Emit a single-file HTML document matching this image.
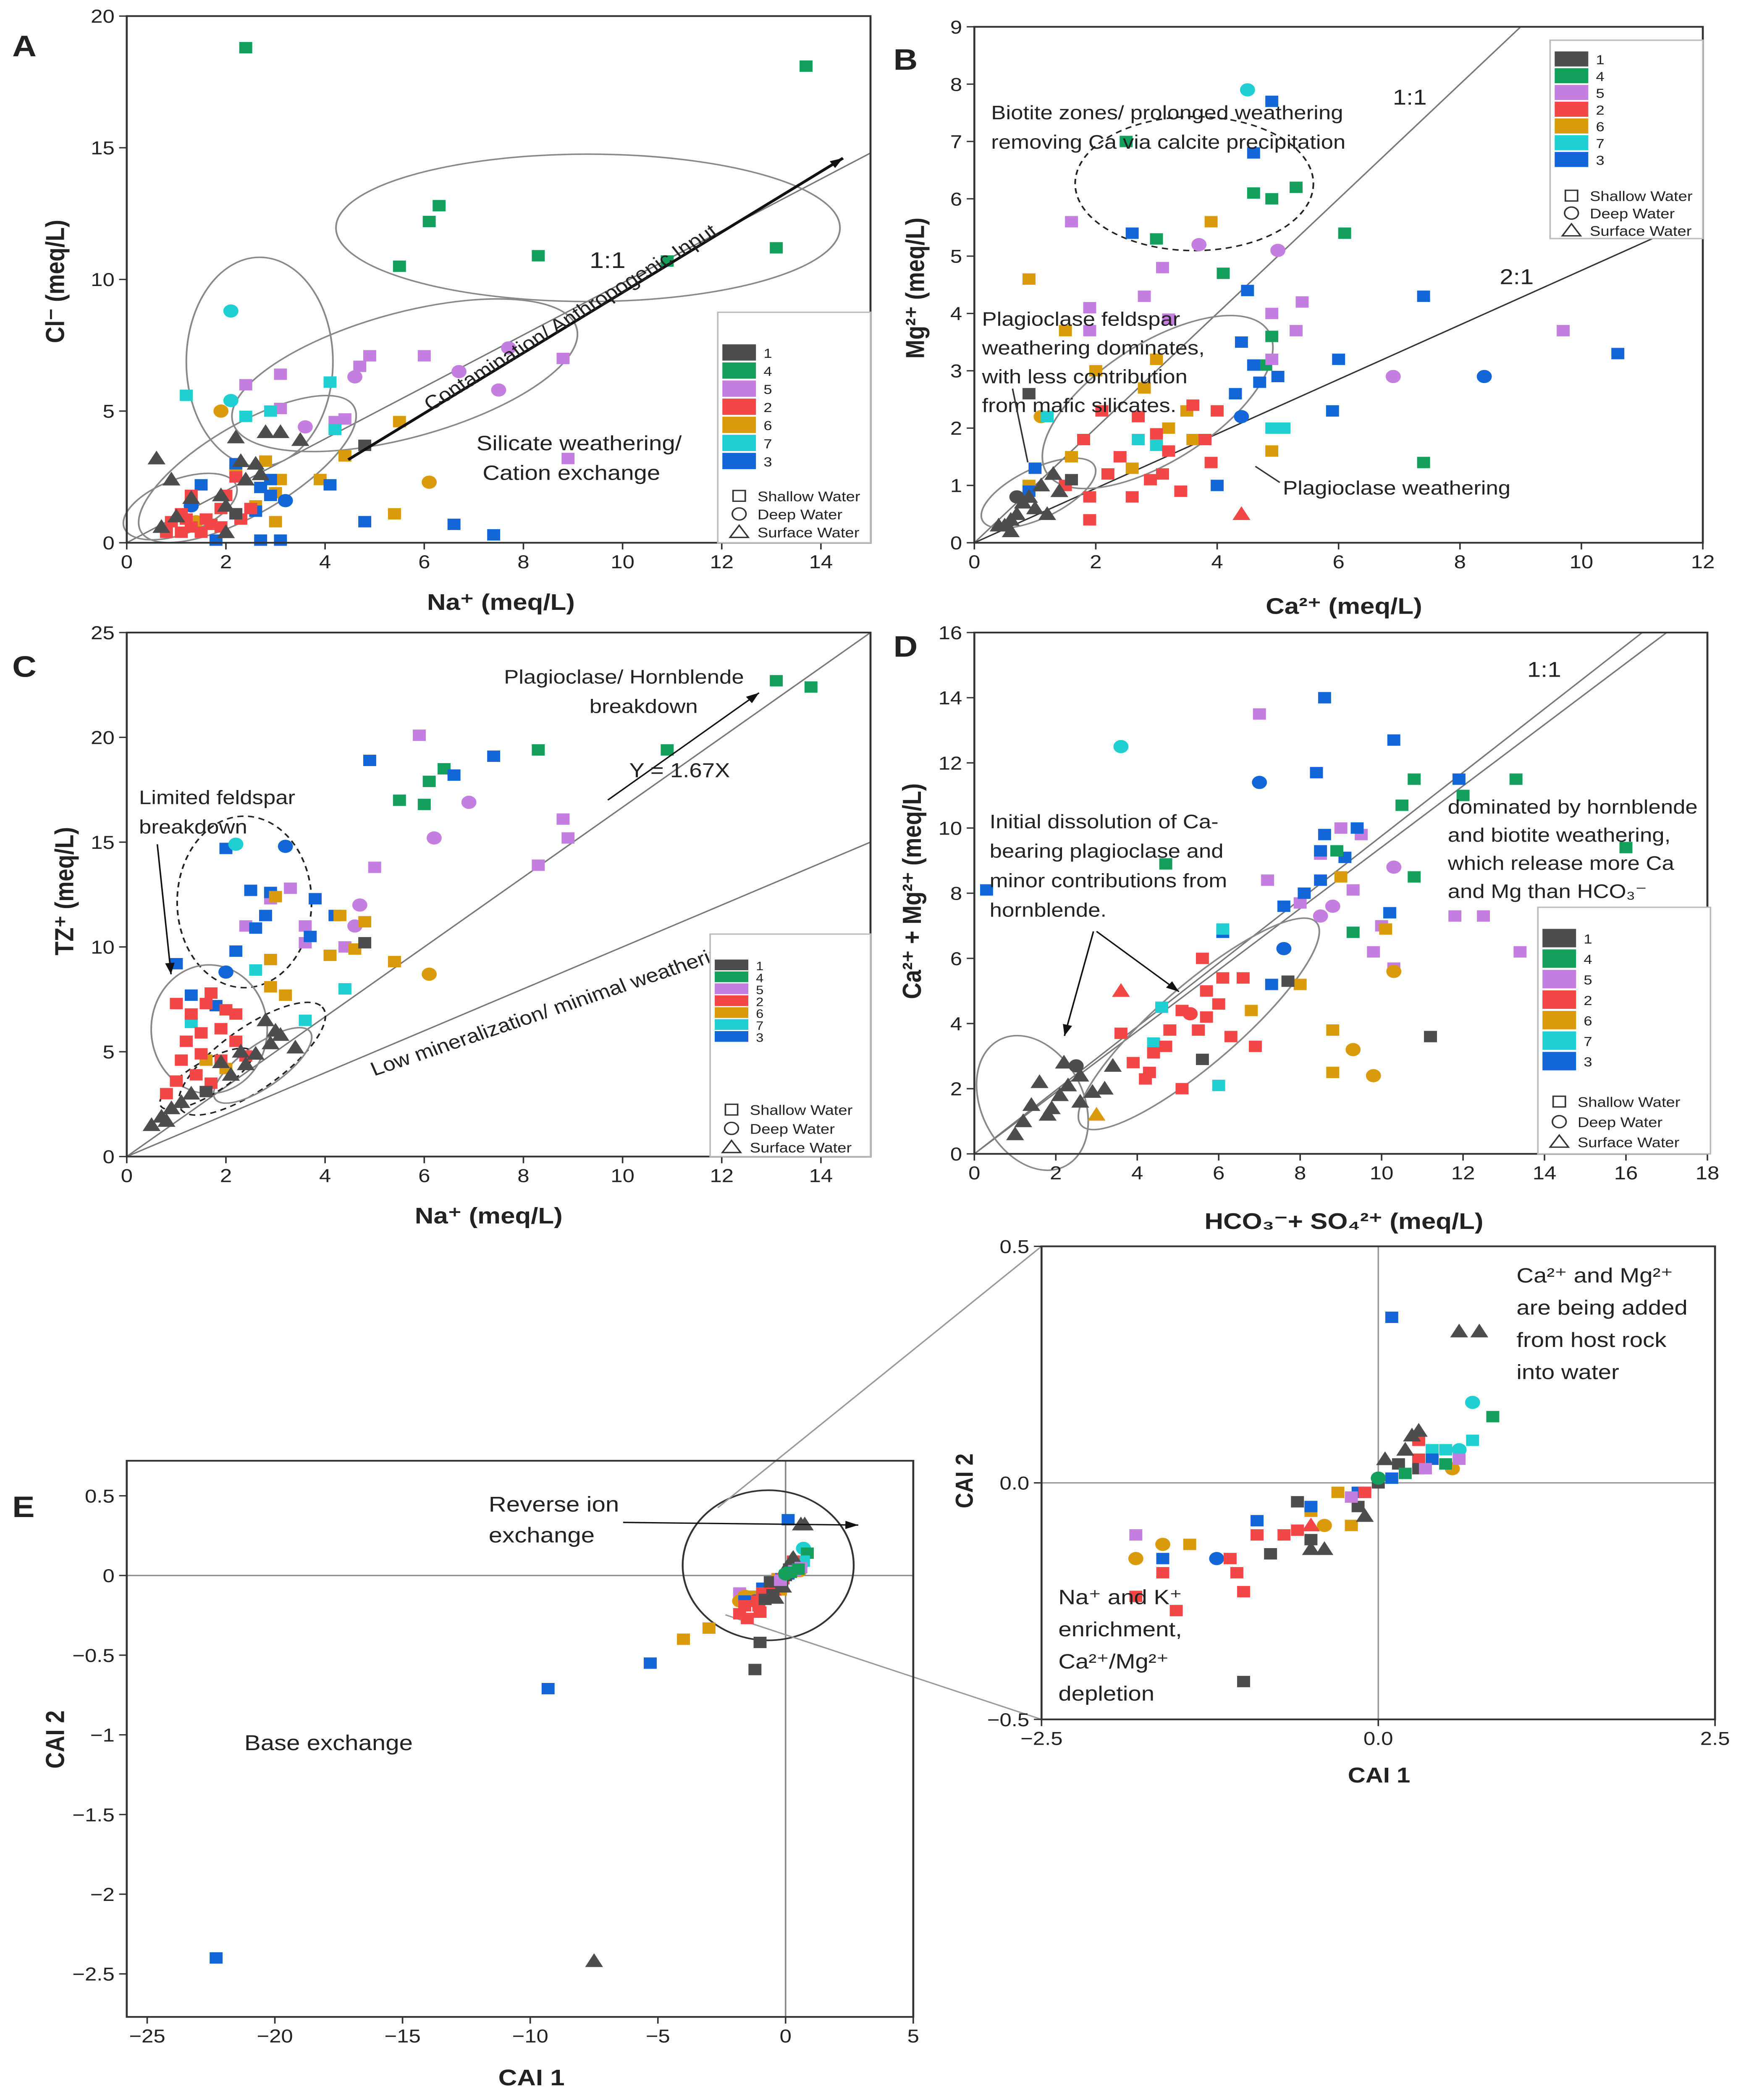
<!DOCTYPE html>
<html><head><meta charset="utf-8"><style>
html,body{margin:0;padding:0;background:#fff;width:100%;height:100%;overflow:hidden}
svg{display:block;width:100vw;height:100vh}
text{font-family:"Liberation Sans",sans-serif;fill:#222}
</style></head><body>
<svg id="fig" viewBox="0 0 1140 1567" preserveAspectRatio="none" xmlns="http://www.w3.org/2000/svg"></svg>
<script>
// ---------- DATA ----------
const groupLabels = ["1","4","5","2","6","7","3"];
const groupColors = {"1":"#4d4d4d","4":"#14a05c","5":"#c37ee0","2":"#f34646","6":"#d99b0c","7":"#1fcfd2","3":"#1366d8"};
const shapeLabels = ["Shallow Water","Deep Water","Surface Water"];
// panel A: [Na, Cl, group, shape]
const dataA = [
[2.4,18.8,"4","s"],[13.7,18.1,"4","s"],[6.3,12.8,"4","s"],[6.1,12.2,"4","s"],[5.5,10.5,"4","s"],[8.3,10.9,"4","s"],[10.9,10.7,"4","s"],[13.1,11.2,"4","s"],
[4.9,7.1,"5","s"],[6.0,7.1,"5","s"],[7.7,7.4,"5","c"],[8.8,7.0,"5","s"],[8.9,3.2,"5","s"],[6.7,6.5,"5","c"],[3.1,6.4,"5","s"],[4.6,6.3,"5","c"],[2.4,6.0,"5","s"],[4.7,6.7,"5","s"],[7.5,5.8,"5","c"],[3.1,5.1,"5","s"],[4.4,4.7,"5","s"],[3.6,4.4,"5","c"],[4.2,4.6,"5","s"],
[2.1,8.8,"7","c"],[2.1,5.4,"7","c"],[1.2,5.6,"7","s"],[2.9,5.0,"7","s"],[2.4,4.8,"7","s"],[4.1,6.1,"7","s"],[4.2,4.3,"7","s"],
[1.9,5.0,"6","c"],[5.5,4.6,"6","s"],[6.1,2.3,"6","c"],[4.4,3.3,"6","s"],[2.8,3.1,"6","s"],[3.1,2.4,"6","s"],[2.2,2.8,"6","s"],[3.0,1.9,"6","s"],[2.6,1.4,"6","s"],[1.4,0.8,"6","c"],[3.0,0.8,"6","s"],[5.4,1.1,"6","s"],[3.9,2.4,"6","s"],
[2.2,3.0,"3","s"],[2.7,2.1,"3","s"],[1.5,2.2,"3","s"],[1.3,1.4,"3","c"],[2.9,2.4,"3","s"],[2.9,1.8,"3","s"],[4.1,2.2,"3","s"],[3.2,1.6,"3","c"],[2.6,1.2,"3","s"],[4.8,0.8,"3","s"],[6.6,0.7,"3","s"],[7.4,0.3,"3","s"],[1.8,0.1,"3","s"],[2.7,0.1,"3","s"],[2.2,1.1,"3","s"],[3.1,0.1,"3","s"],
[0.9,0.8,"2","s"],[1.1,1.1,"2","s"],[1.3,0.6,"2","s"],[1.6,0.9,"2","s"],[1.9,1.3,"2","s"],[1.1,0.4,"2","s"],[1.5,0.4,"2","s"],[1.9,0.6,"2","s"],[2.3,0.9,"2","s"],[2.5,1.3,"2","s"],[0.8,0.4,"2","s"],[1.3,1.8,"2","s"],[2.0,1.8,"2","s"],[2.2,2.5,"2","s"],[1.7,0.7,"2","s"],[1.2,0.9,"2","s"],
[0.6,3.2,"1","t"],[0.9,2.4,"1","t"],[1.3,1.7,"1","t"],[2.3,3.1,"1","t"],[2.6,3.0,"1","t"],[2.8,4.2,"1","t"],[3.1,4.2,"1","t"],[2.2,4.0,"1","t"],[2.4,2.4,"1","t"],[1.9,1.8,"1","t"],[1.0,1.0,"1","t"],[0.7,0.6,"1","t"],[2.0,1.4,"1","t"],[2.7,2.6,"1","t"],[4.8,3.7,"1","s"],[2.2,1.1,"1","s"],[2.0,0.4,"1","t"],[3.5,3.9,"1","t"]];
// panel B: [Ca, Mg, group, shape]
const dataB = [
[4.5,7.9,"7","c"],[4.9,7.7,"3","s"],[2.5,7.0,"4","s"],[4.6,6.1,"4","s"],[4.9,6.0,"4","s"],[5.3,6.2,"4","s"],[3.0,5.3,"4","s"],[6.1,5.4,"4","s"],[4.1,4.7,"4","s"],[4.9,3.6,"4","s"],[7.4,1.4,"4","s"],[4.8,3.1,"4","s"],
[1.6,5.6,"5","s"],[3.7,5.2,"5","c"],[5.0,5.1,"5","c"],[3.1,4.8,"5","s"],[1.9,4.1,"5","s"],[2.8,4.3,"5","s"],[4.9,4.0,"5","s"],[5.4,4.2,"5","s"],[4.9,3.2,"5","s"],[5.3,3.7,"5","s"],[9.7,3.7,"5","s"],[6.9,2.9,"5","c"],[1.9,3.7,"5","s"],[3.2,3.9,"5","s"],
[3.9,5.6,"6","s"],[0.9,4.6,"6","s"],[1.5,3.7,"6","s"],[3.0,3.2,"6","s"],[2.0,3.0,"6","s"],[3.5,2.3,"6","s"],[2.8,2.7,"6","s"],[3.6,1.8,"6","s"],[1.6,1.5,"6","s"],[0.9,1.0,"6","s"],[2.6,1.3,"6","s"],[4.9,1.6,"6","s"],[3.2,2.0,"6","s"],[1.1,2.2,"6","c"],
[4.6,6.8,"3","s"],[2.6,5.4,"3","s"],[4.5,4.4,"3","s"],[7.4,4.3,"3","s"],[4.4,3.5,"3","s"],[6.0,3.2,"3","s"],[10.6,3.3,"3","s"],[8.4,2.9,"3","c"],[4.7,2.8,"3","s"],[5.9,2.3,"3","s"],[5.0,2.9,"3","s"],[4.3,2.6,"3","s"],[4.0,1.0,"3","s"],[4.4,2.2,"3","c"],[0.9,0.9,"3","s"],[1.0,1.3,"3","s"],[4.6,3.1,"3","s"],
[2.7,1.8,"7","s"],[3.0,1.7,"7","s"],[1.2,2.2,"7","s"],[4.9,2.0,"7","s"],[5.1,2.0,"7","s"],
[2.1,2.3,"2","s"],[2.7,2.2,"2","s"],[3.6,2.4,"2","s"],[3.0,1.9,"2","s"],[1.8,1.8,"2","s"],[2.4,1.5,"2","s"],[3.1,1.2,"2","s"],[2.6,0.8,"2","s"],[3.4,0.9,"2","s"],[4.4,0.5,"2","t"],[1.9,0.8,"2","s"],[1.5,1.0,"2","s"],[3.9,1.4,"2","s"],[3.2,1.6,"2","s"],[4.0,2.3,"2","s"],[3.8,1.8,"2","s"],[2.2,1.2,"2","s"],[2.9,1.1,"2","s"],[1.9,0.4,"2","s"],
[0.9,2.6,"1","s"],[0.5,0.3,"1","t"],[0.6,0.4,"1","t"],[0.7,0.5,"1","t"],[0.8,0.7,"1","t"],[0.9,0.8,"1","t"],[1.1,1.0,"1","t"],[1.3,1.2,"1","t"],[0.6,0.2,"1","t"],[1.0,0.6,"1","t"],[1.4,0.9,"1","t"],[1.6,1.1,"1","s"],[0.4,0.3,"1","t"],[0.7,0.8,"1","c"],[1.2,0.5,"1","t"]];
// panel C: [Na, TZ, group, shape]
const dataC = [
[13.1,22.7,"4","s"],[13.8,22.4,"4","s"],[10.9,19.4,"4","s"],[8.3,19.4,"4","s"],[6.4,18.5,"4","s"],[6.1,17.9,"4","s"],[5.5,17.0,"4","s"],[6.0,16.8,"4","s"],
[5.0,13.8,"5","s"],[5.9,20.1,"5","s"],[6.9,16.9,"5","c"],[6.2,15.2,"5","c"],[8.8,16.1,"5","s"],[8.9,15.2,"5","s"],[8.3,13.9,"5","s"],[4.7,12.0,"5","c"],[4.6,11.0,"5","c"],[3.3,12.8,"5","s"],[2.9,12.3,"5","s"],[3.6,11.0,"5","s"],[2.4,11.0,"5","s"],[4.4,10.0,"5","s"],[3.6,10.2,"5","s"],
[4.9,18.9,"3","s"],[7.4,19.1,"3","s"],[6.6,18.2,"3","s"],[2.0,14.7,"3","s"],[3.2,14.8,"3","c"],[2.5,12.7,"3","s"],[2.9,12.6,"3","s"],[3.8,12.3,"3","s"],[2.8,11.5,"3","s"],[2.6,10.9,"3","s"],[2.2,9.8,"3","s"],[1.0,9.2,"3","s"],[2.0,8.8,"3","c"],[4.2,11.5,"3","s"],[1.3,7.7,"3","s"],[3.7,10.5,"3","s"],[1.8,7.2,"3","s"],
[2.2,14.9,"7","c"],[2.6,8.9,"7","s"],[3.6,6.5,"7","s"],[4.4,8.0,"7","s"],[1.3,6.4,"7","s"],
[3.0,12.4,"6","s"],[2.9,9.4,"6","s"],[3.2,7.7,"6","s"],[4.1,9.6,"6","s"],[4.6,9.9,"6","s"],[5.4,9.3,"6","s"],[6.1,8.7,"6","c"],[4.8,11.2,"6","s"],[2.9,8.1,"6","s"],[2.0,4.2,"6","s"],[1.6,4.6,"6","s"],[4.3,11.5,"6","s"],
[1.0,7.3,"2","s"],[1.3,6.8,"2","s"],[1.6,7.3,"2","s"],[2.0,7.0,"2","s"],[1.2,5.5,"2","s"],[1.5,5.9,"2","s"],[1.9,6.1,"2","s"],[2.2,5.5,"2","s"],[1.1,4.6,"2","s"],[1.5,4.9,"2","s"],[1.9,4.6,"2","s"],[2.4,4.8,"2","s"],[1.0,3.6,"2","s"],[1.4,3.9,"2","s"],[0.8,3.0,"2","s"],[1.7,3.5,"2","s"],[2.2,6.8,"2","s"],[1.7,7.8,"2","s"],
[4.8,10.2,"1","s"],[1.6,3.1,"1","s"],[0.5,1.5,"1","t"],[0.7,1.9,"1","t"],[0.9,2.3,"1","t"],[1.1,2.6,"1","t"],[1.3,3.0,"1","t"],[2.1,3.9,"1","t"],[2.4,4.4,"1","t"],[2.6,4.9,"1","t"],[2.9,5.4,"1","t"],[3.1,5.8,"1","t"],[2.8,6.5,"1","t"],[3.4,5.2,"1","t"],[2.3,5.0,"1","t"],[1.9,4.5,"1","t"],[0.8,1.7,"1","t"],[3.0,6.0,"1","t"]];
// panel D: [HCO3+SO4, Ca+Mg, group, shape]
const dataD = [
[7.0,13.5,"5","s"],[9.5,9.8,"5","s"],[9.0,10.0,"5","s"],[8.5,9.2,"5","s"],[10.3,8.8,"5","c"],[10.3,5.7,"5","s"],[9.8,6.2,"5","s"],[8.0,7.7,"5","s"],[8.5,7.3,"5","c"],[8.8,7.6,"5","c"],[9.3,8.1,"5","s"],[11.8,7.3,"5","s"],[12.5,7.3,"5","s"],[13.4,6.2,"5","s"],[7.2,8.4,"5","s"],[10.0,7.0,"5","s"],
[8.6,14.0,"3","s"],[10.3,12.7,"3","s"],[8.4,11.7,"3","s"],[7.0,11.4,"3","c"],[9.4,10.0,"3","s"],[11.9,11.5,"3","s"],[8.6,9.8,"3","s"],[8.5,9.3,"3","s"],[9.1,9.1,"3","s"],[8.5,8.4,"3","s"],[8.1,8.0,"3","s"],[7.6,7.6,"3","s"],[10.2,7.4,"3","s"],[7.6,6.3,"3","c"],[7.3,5.2,"3","s"],[0.3,8.1,"3","s"],[6.1,6.8,"3","s"],
[10.8,11.5,"4","s"],[13.3,11.5,"4","s"],[12.0,11.0,"4","s"],[10.5,10.7,"4","s"],[16.0,9.4,"4","s"],[8.9,9.3,"4","s"],[10.8,8.5,"4","s"],[4.7,8.9,"4","s"],[9.3,6.8,"4","s"],
[3.6,12.5,"7","c"],[6.1,6.9,"7","s"],[4.6,4.5,"7","s"],[6.0,2.1,"7","s"],[4.4,3.4,"7","s"],
[9.0,8.5,"6","s"],[10.1,6.9,"6","s"],[10.3,5.6,"6","c"],[8.0,5.2,"6","s"],[8.8,3.8,"6","s"],[9.3,3.2,"6","c"],[9.8,2.4,"6","c"],[8.8,2.5,"6","s"],[6.8,4.4,"6","s"],[3.0,1.2,"6","t"],
[5.6,6.0,"2","s"],[6.1,5.4,"2","s"],[5.7,5.0,"2","s"],[5.5,3.8,"2","s"],[5.1,4.4,"2","s"],[4.3,2.5,"2","s"],[4.7,3.3,"2","s"],[3.6,5.0,"2","t"],[4.4,3.1,"2","s"],[5.7,4.2,"2","s"],[6.0,4.6,"2","s"],[6.6,5.4,"2","s"],[3.6,3.7,"2","s"],[4.2,2.3,"2","s"],[5.1,2.0,"2","s"],[6.3,3.6,"2","s"],[6.9,3.3,"2","s"],[4.8,3.8,"2","s"],[3.9,2.8,"2","s"],[5.3,4.3,"2","c"],
[11.2,3.6,"1","s"],[5.6,2.9,"1","s"],[7.7,5.3,"1","s"],[1.0,0.6,"1","t"],[1.2,1.0,"1","t"],[1.4,1.5,"1","t"],[1.8,1.2,"1","t"],[2.1,1.8,"1","t"],[2.3,2.1,"1","t"],[2.6,2.4,"1","t"],[2.2,2.8,"1","t"],[2.9,1.9,"1","t"],[3.2,2.0,"1","t"],[1.6,2.2,"1","t"],[2.6,1.6,"1","t"],[3.4,2.7,"1","t"],[2.5,2.7,"1","c"],[1.9,1.4,"1","t"]];
// panel E: [CAI1, CAI2, group, shape]
const dataE = [
[-22.3,-2.4,"3","s"],[-7.5,-2.42,"1","t"],[-9.3,-0.71,"3","s"],[-5.3,-0.55,"3","s"],[-4.0,-0.40,"6","s"],[-3.0,-0.33,"6","s"],[-1.2,-0.59,"1","s"],
[0.1,0.35,"3","s"],[0.6,0.32,"1","t"],[0.75,0.32,"1","t"],[0.7,0.17,"7","c"],[0.85,0.14,"4","s"],[0.7,0.09,"7","s"],[0.6,0.07,"7","c"],[0.4,0.07,"7","s"],[0.5,0.07,"7","s"],
[-1.0,-0.42,"1","s"],
[-1.8,-0.11,"5","s"],[-1.8,-0.16,"6","c"],[-1.6,-0.13,"6","c"],[-1.4,-0.13,"6","s"],[-0.5,-0.06,"6","s"],[-0.4,-0.09,"6","c"],[-0.2,-0.09,"6","s"],[-0.3,-0.02,"6","s"],[0.55,0.03,"6","c"],
[-1.6,-0.16,"3","s"],[-1.2,-0.16,"3","c"],[-0.9,-0.08,"3","s"],[-0.5,-0.05,"3","s"],[-0.15,-0.02,"3","s"],[-0.1,-0.02,"3","s"],[0.1,0.01,"3","s"],[0.3,0.04,"3","s"],[0.4,0.05,"3","s"],
[-1.8,-0.24,"2","s"],[-1.5,-0.27,"2","s"],[-1.6,-0.19,"2","s"],[-1.0,-0.23,"2","s"],[-1.05,-0.19,"2","s"],[-1.1,-0.16,"2","s"],[-0.9,-0.11,"2","s"],[-0.7,-0.11,"2","s"],[-0.5,-0.09,"2","t"],[-0.1,-0.02,"2","s"],[0.3,0.05,"2","s"],[0.3,0.09,"2","s"],[-0.6,-0.1,"2","s"],
[-0.8,-0.15,"1","s"],[-0.5,-0.12,"1","s"],[-0.6,-0.04,"1","s"],[-0.15,-0.05,"1","s"],[-0.4,-0.14,"1","t"],[-0.5,-0.14,"1","t"],[-0.1,-0.07,"1","t"],[0.05,0.05,"1","t"],[0.2,0.07,"1","t"],[0.3,0.11,"1","t"],[0.25,0.1,"1","t"],[0.3,0.03,"1","s"],[0.15,0.04,"1","s"],[0.0,0.0,"1","s"],
[-0.2,-0.03,"5","s"],[0.35,0.03,"5","s"],[0.6,0.05,"5","s"],[0.5,0.04,"4","s"],[0.2,0.02,"4","s"],[0.0,0.01,"4","c"]];

// ---------- DRAWING ----------
const NS="http://www.w3.org/2000/svg";
const svg=document.getElementById("fig");
function el(tag,attrs,parent){const e=document.createElementNS(NS,tag);for(const k in attrs)e.setAttribute(k,attrs[k]);(parent||svg).appendChild(e);return e;}
function txt(x,y,s,size,parent,extra){const t=el("text",Object.assign({x:x,y:y,"font-size":size},extra||{}),parent);t.textContent=s;return t;}
function scale(d0,d1,r0,r1){return v=>r0+(v-d0)/(d1-d0)*(r1-r0);}

function marker(g,x,y,grp,shape,sz){
  const c=groupColors[grp];let m;
  if(shape==="s"){m=el("rect",{x:x-sz/2,y:y-sz/2,width:sz,height:sz,fill:c},g);}
  else if(shape==="c"){m=el("circle",{cx:x,cy:y,r:sz*0.58,fill:c},g);}
  else{const h=sz*1.15;m=el("polygon",{points:`${x},${y-h*0.6} ${x-h*0.6},${y+h*0.45} ${x+h*0.6},${y+h*0.45}`,fill:c},g);}
  
  
  return m;
}

function panel(name,box,xd,yd,xticks,yticks,data,opts){
  const g=el("g",{});
  
  
  const X=scale(xd[0],xd[1],box.x0,box.x1), Y=scale(yd[0],yd[1],box.y0,box.y1);
  (opts.under||function(){})(g,X,Y);
  const pts=el("g",{},g);
  
  
  const clipX=[Math.min(xd[0],xd[1]),Math.max(xd[0],xd[1])],clipY=[Math.min(yd[0],yd[1]),Math.max(yd[0],yd[1])];
  data.forEach(p=>{ if(p[0]<clipX[0]||p[0]>clipX[1]||p[1]<clipY[0]||p[1]>clipY[1])return; marker(pts,X(p[0]),Y(p[1]),p[2],p[3],opts.ms||8.5);});
  const frame=el("rect",{x:box.x0,y:box.y1,width:box.x1-box.x0,height:box.y0-box.y1,fill:"none",stroke:"#333","stroke-width":1.3},g);
  
  
  const xa=el("g",{},g);
  
  
  xticks.forEach(v=>{const x=X(v);el("line",{x1:x,y1:box.y0,x2:x,y2:box.y0+5,stroke:"#333"},xa);txt(x,box.y0+19,(opts.dec?v.toFixed(1):String(v)).replace('-','\u2212'),opts.fs||14,xa,{"text-anchor":"middle"});});
  const ya=el("g",{},g);
  
  
  yticks.forEach(v=>{const y=Y(v);el("line",{x1:box.x0-5,y1:y,x2:box.x0,y2:y,stroke:"#333"},ya);txt(box.x0-8,y+5,(opts.dec?v.toFixed(1):String(v)).replace('-','\u2212'),opts.fs||14,ya,{"text-anchor":"end"});});
  (opts.over||function(){})(g,X,Y);
  return g;
}

function legend(x,y,w,h,rowY0,rowStep,shapeY0,shapeStep){
  const g=el("g",{});
  
  
  el("rect",{x:x,y:y,width:w,height:h,fill:"#fff",stroke:"#bbb"},g);
  groupLabels.forEach((lab,i)=>{
    const r=el("rect",{x:x+3,y:rowY0+i*rowStep-rowStep*0.45,width:22,height:rowStep*0.9,fill:groupColors[lab]},g);
    
    
    txt(x+30,rowY0+i*rowStep+4,lab,Math.min(10,rowStep),g);
  });
  shapeLabels.forEach((lab,i)=>{
    const cy=shapeY0+i*shapeStep,cx=x+14;
    if(i===0)el("rect",{x:cx-4,y:cy-4,width:8,height:8,fill:"none",stroke:"#333"},g);
    else if(i===1)el("circle",{cx:cx,cy:cy,r:4.5,fill:"none",stroke:"#333"},g);
    else el("polygon",{points:`${cx},${cy-5} ${cx-6},${cy+4} ${cx+6},${cy+4}`,fill:"none",stroke:"#333"},g);
    txt(x+26,cy+4,lab,10.5,g);
  });
}
function ell(g,cx,cy,rx,ry,rot,dash){const e=el("ellipse",{cx:cx,cy:cy,rx:rx,ry:ry,transform:`rotate(${rot} ${cx} ${cy})`,fill:"none",stroke:dash?"#222":"#888","stroke-width":1.1,"stroke-dasharray":dash?"4 3":"none"},g);}
function arrowLine(g,x1,y1,x2,y2,w){el("line",{x1:x1,y1:y1,x2:x2,y2:y2,stroke:"#111","stroke-width":w||1},g);const a=Math.atan2(y2-y1,x2-x1),L=9;el("polygon",{points:`${x2},${y2} ${x2-L*Math.cos(a-0.35)},${y2-L*Math.sin(a-0.35)} ${x2-L*Math.cos(a+0.35)},${y2-L*Math.sin(a+0.35)}`,fill:"#111"},g);}
function bold(x,y,s,size,rot){const t=txt(x,y,s,size,svg,{"font-weight":"bold","text-anchor":"middle"});if(rot)t.setAttribute("transform",`rotate(-90 ${x} ${y})`);return t;}
function label(x,y,s,size){return txt(x,y,s,size,svg,{"font-weight":"bold"});}

// ---- Panel A ----
panel("panel-a",{x0:83,x1:570,y0:405,y1:12},[0,15],[0,20],[0,2,4,6,8,10,12,14],[0,5,10,15,20],dataA,{
 under:(g,X,Y)=>{el("line",{x1:X(0),y1:Y(0),x2:X(15),y2:Y(14.8),stroke:"#777"},g);
   ell(g,385,170,165,55,0);ell(g,265,280,118,46,-18);ell(g,170,270,48,78,0);ell(g,162,350,84,32,-35);ell(g,118,378,40,20,-25);},
 over:(g,X,Y)=>{arrowLine(g,228,343,552,118,2);txt(386,200,"1:1",17,g);
   const t=txt(282,307,"Contamination/ Anthropogenic Input",14.5,g);t.setAttribute("transform","rotate(-35 282 307)");
   txt(312,336,"Silicate weathering/",15.5,g);txt(316,358,"Cation exchange",15.5,g);}});
legend(470,233,100,172,263,13.5,370,13.5);
label(8,42,"A",22);
bold(328,455,"Na⁺ (meq/L)",17);bold(42,210,"Cl⁻ (meq/L)",17,true);

// ---- Panel B ----
panel("panel-b",{x0:638,x1:1115,y0:405,y1:20},[0,12],[0,9],[0,2,4,6,8,10,12],[0,1,2,3,4,5,6,7,8,9],dataB,{
 under:(g,X,Y)=>{el("line",{x1:X(0),y1:Y(0),x2:X(9),y2:Y(9),stroke:"#777"},g);el("line",{x1:X(0),y1:Y(0),x2:X(12),y2:Y(5.7),stroke:"#333"},g);
   ell(g,782,137,78,50,0,true);ell(g,758,300,90,42,-38);ell(g,680,368,42,18,-30);},
 over:(g,X,Y)=>{txt(912,78,"1:1",16,g);txt(982,212,"2:1",16,g);
   txt(649,89,"Biotite zones/ prolonged weathering",14.5,g);txt(649,111,"removing Ca via calcite precipitation",14.5,g);
   ["Plagioclase     feldspar","weathering dominates,","with   less   contribution","from mafic silicates."].forEach((s,i)=>txt(643,243+i*21.5,s,14.5,g));
   txt(840,369,"Plagioclase weathering",14.5,g);
   el("line",{x1:663,y1:290,x2:673,y2:345,stroke:"#333"},g);el("line",{x1:838,y1:360,x2:822,y2:348,stroke:"#333"},g);}});
legend(1015,30,100,148,44,12.5,146,13);
label(585,52,"B",22);
bold(880,458,"Ca²⁺ (meq/L)",17);bold(605,215,"Mg²⁺ (meq/L)",17,true);

// ---- Panel C ----
panel("panel-c",{x0:83,x1:570,y0:863,y1:472},[0,15],[0,25],[0,2,4,6,8,10,12,14],[0,5,10,15,20,25],dataC,{
 under:(g,X,Y)=>{el("line",{x1:X(0),y1:Y(0),x2:X(15),y2:Y(25),stroke:"#777"},g);el("line",{x1:X(0),y1:Y(0),x2:X(15),y2:Y(15),stroke:"#777"},g);
   ell(g,160,673,44,64,0,true);ell(g,137,768,38,48,0);ell(g,165,790,60,22,-40,true);ell(g,172,795,40,15,-40);ell(g,135,805,36,12,-35,true);},
 over:(g,X,Y)=>{arrowLine(g,398,597,497,517,1);
   txt(330,510,"Plagioclase/ Hornblende",14.5,g);txt(386,532,"breakdown",14.5,g);txt(412,580,"Y = 1.67X",15,g);
   txt(470,715,"1:1",15,g);
   const t=txt(245,803,"Low mineralization/ minimal weathering",14.5,g);t.setAttribute("transform","rotate(-21 245 803)");
   txt(91,600,"Limited feldspar",14.5,g);txt(91,622,"breakdown",14.5,g);
   arrowLine(g,103,630,112,727,1);}});
legend(465,697,105,166,720,8.9,828,14);
label(8,505,"C",22);
bold(320,913,"Na⁺ (meq/L)",17);bold(48,665,"TZ⁺ (meq/L)",17,true);

// ---- Panel D ----
panel("panel-d",{x0:638,x1:1118,y0:861,y1:472},[0,18],[0,16],[0,2,4,6,8,10,12,14,16,18],[0,2,4,6,8,10,12,14,16],dataD,{
 under:(g,X,Y)=>{el("line",{x1:X(0),y1:Y(0),x2:X(16.4),y2:Y(16),stroke:"#777"},g);el("line",{x1:X(0),y1:Y(0),x2:X(17),y2:Y(16),stroke:"#777"},g);
   ell(g,785,764,108,28,-45);ell(g,676,823,34,52,-20);},
 over:(g,X,Y)=>{txt(1000,505,"1:1",16,g);
   ["Initial  dissolution  of  Ca-","bearing   plagioclase   and","minor   contributions   from","hornblende."].forEach((s,i)=>txt(648,618+i*22,s,14.5,g));
   ["dominated by hornblende","and biotite weathering,","which release more Ca","and Mg than HCO₃⁻"].forEach((s,i)=>txt(948,607+i*21,s,14.5,g));
   arrowLine(g,716,695,697,773,1);arrowLine(g,718,695,772,740,1);}});
legend(1007,677,113,184,700,15.3,822,15);
label(585,490,"D",22);
bold(880,917,"HCO₃⁻+ SO₄²⁺ (meq/L)",17);bold(603,665,"Ca²⁺ + Mg²⁺ (meq/L)",17,true);

// ---- Panel E ----
panel("panel-e",{x0:83,x1:598,y0:1505,y1:1090},[-25.8,5],[-2.77,0.72],[-25,-20,-15,-10,-5,0,5],[0.5,0,-0.5,-1,-1.5,-2,-2.5],dataE,{
 under:(g,X,Y)=>{el("line",{x1:X(0),y1:1090,x2:X(0),y2:1505,stroke:"#888"},g);el("line",{x1:83,y1:Y(0),x2:598,y2:Y(0),stroke:"#888"},g);
   el("circle",{cx:503,cy:1168,r:56,fill:"none",stroke:"#333","stroke-width":1.2},g);
   el("line",{x1:470,y1:1125,x2:682,y2:930,stroke:"#999"},g);el("line",{x1:475,y1:1205,x2:682,y2:1283,stroke:"#999"},g);},
 over:(g,X,Y)=>{txt(320,1128,"Reverse ion",16,g);txt(320,1151,"exchange",16,g);arrowLine(g,408,1136,562,1138,1);txt(160,1306,"Base exchange",16,g);}});
label(8,1132,"E",22);
bold(348,1556,"CAI 1",17);bold(42,1298,"CAI 2",17,true);

// ---- Inset ----
const inset=panel("panel-e-inset",{x0:682,x1:1123,y0:1283,y1:930},[-2.5,2.5],[-0.5,0.5],[-2.5,0.0,2.5],[0.5,0.0,-0.5],dataE,{dec:true,fs:14,
 under:(g,X,Y)=>{el("rect",{x:682,y:930,width:441,height:353,fill:"#fff"},g);
   el("line",{x1:X(0),y1:930,x2:X(0),y2:1283,stroke:"#999"},g);el("line",{x1:682,y1:Y(0),x2:1123,y2:Y(0),stroke:"#999"},g);},
 over:(g,X,Y)=>{["Ca²⁺ and Mg²⁺","are being added","from host rock","into water"].forEach((s,i)=>txt(993,957+i*24,s,15.5,g));
   ["Na⁺ and K⁺","enrichment,","Ca²⁺/Mg²⁺","depletion"].forEach((s,i)=>txt(693,1197+i*24,s,15.5,g));}});
bold(903,1330,"CAI 1",16);bold(637,1105,"CAI 2",16,true);
</script>
</body></html>
